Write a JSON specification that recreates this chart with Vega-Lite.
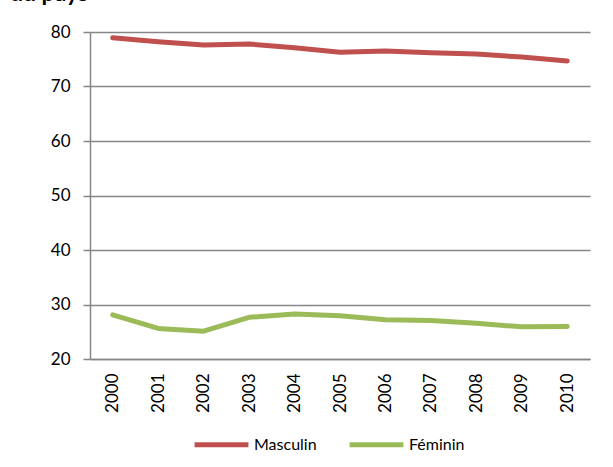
{
  "$schema": "https://vega.github.io/schema/vega-lite/v6.json",
  "autosize": {"type": "none"},
  "width": 500,
  "height": 327,
  "padding": {"left": 90, "top": 32, "right": 23, "bottom": 108},
  "background": "white",
  "title": {
    "text": "du pays",
    "anchor": "start",
    "frame": "group",
    "offset": 17,
    "dx": -80,
    "font": "Lato",
    "fontSize": 23,
    "fontWeight": "bold",
    "color": "#000000"
  },
  "data": {
    "values": [
      {"annee": "2000", "serie": "Masculin", "valeur": 78.95},
      {"annee": "2001", "serie": "Masculin", "valeur": 78.2},
      {"annee": "2002", "serie": "Masculin", "valeur": 77.6},
      {"annee": "2003", "serie": "Masculin", "valeur": 77.8},
      {"annee": "2004", "serie": "Masculin", "valeur": 77.1},
      {"annee": "2005", "serie": "Masculin", "valeur": 76.3},
      {"annee": "2006", "serie": "Masculin", "valeur": 76.5},
      {"annee": "2007", "serie": "Masculin", "valeur": 76.2},
      {"annee": "2008", "serie": "Masculin", "valeur": 75.95},
      {"annee": "2009", "serie": "Masculin", "valeur": 75.4},
      {"annee": "2010", "serie": "Masculin", "valeur": 74.7},
      {"annee": "2000", "serie": "Féminin", "valeur": 28.1},
      {"annee": "2001", "serie": "Féminin", "valeur": 25.6},
      {"annee": "2002", "serie": "Féminin", "valeur": 25.1},
      {"annee": "2003", "serie": "Féminin", "valeur": 27.65},
      {"annee": "2004", "serie": "Féminin", "valeur": 28.25},
      {"annee": "2005", "serie": "Féminin", "valeur": 27.95},
      {"annee": "2006", "serie": "Féminin", "valeur": 27.2},
      {"annee": "2007", "serie": "Féminin", "valeur": 27.05},
      {"annee": "2008", "serie": "Féminin", "valeur": 26.55},
      {"annee": "2009", "serie": "Féminin", "valeur": 25.9},
      {"annee": "2010", "serie": "Féminin", "valeur": 25.95}
    ]
  },
  "mark": {"type": "line", "strokeWidth": 5, "strokeCap": "round", "strokeJoin": "round"},
  "encoding": {
    "x": {
      "field": "annee",
      "type": "ordinal",
      "title": null,
      "scale": {"paddingInner": 0, "paddingOuter": 0.5},
      "axis": {
        "labelAngle": -90,
        "labelAlign": "right",
        "labelBaseline": "middle",
        "labelPadding": 14,
        "labelFont": "Lato",
        "labelFontSize": 17,
        "labelColor": "#000000",
        "ticks": false,
        "domainColor": "#868686",
        "domainWidth": 1.5,
        "grid": false
      }
    },
    "y": {
      "field": "valeur",
      "type": "quantitative",
      "title": null,
      "scale": {"domain": [20, 80], "nice": false, "zero": false},
      "axis": {
        "values": [20, 30, 40, 50, 60, 70, 80],
        "labelFont": "Lato",
        "labelFontSize": 17,
        "labelColor": "#000000",
        "labelPadding": 13,
        "tickSize": 7,
        "tickColor": "#868686",
        "tickWidth": 1.5,
        "domainColor": "#868686",
        "domainWidth": 1.5,
        "gridColor": "#868686",
        "gridWidth": 1.5
      }
    },
    "color": {
      "field": "serie",
      "type": "nominal",
      "sort": ["Masculin", "Féminin"],
      "scale": {"domain": ["Masculin", "Féminin"], "range": ["#C0504D", "#9BBB59"]},
      "legend": {
        "title": null,
        "orient": "none",
        "legendX": 102,
        "legendY": 383,
        "direction": "horizontal",
        "symbolType": "stroke",
        "symbolSize": 2900,
        "symbolStrokeWidth": 5,
        "labelFont": "Lato",
        "labelFontSize": 16,
        "labelColor": "#000000",
        "labelOffset": 3,
        "columnPadding": 22
      }
    }
  },
  "config": {
    "view": {"stroke": null}
  }
}
